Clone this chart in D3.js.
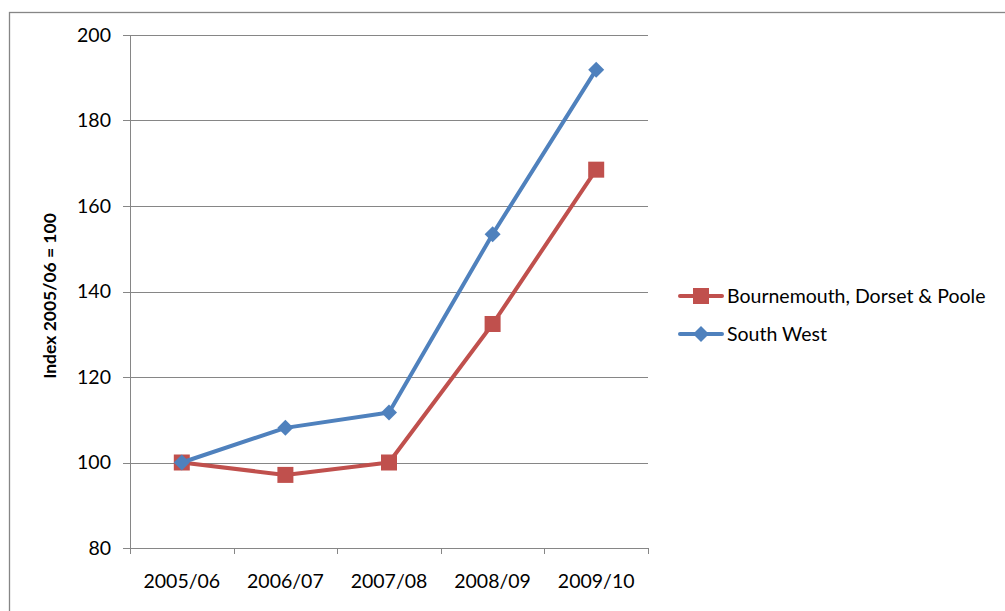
<!DOCTYPE html>
<html>
<head>
<meta charset="utf-8">
<script src="https://cdn.jsdelivr.net/npm/d3@7"></script>
<style>
  body { margin: 0; background: #fff; }
  text { font-family: Lato, "Open Sans", sans-serif; fill: #000; }
</style>
</head>
<body>
<svg id="chart" width="1005" height="611"></svg>
<script>
const years = ['2005/06', '2006/07', '2007/08', '2008/09', '2009/10'];
const bournemouth = [100, 97.1, 100, 132.4, 168.5];
const southWest = [100, 108.1, 111.7, 153.4, 191.9];
const yTicks = [80, 100, 120, 140, 160, 180, 200];

const series = [
  { name: 'Bournemouth, Dorset & Poole', values: bournemouth, colour: '#C0504D', marker: 'square' },
  { name: 'South West', values: southWest, colour: '#4F81BD', marker: 'diamond' }
];

const svg = d3.select('#chart');

// outer chart border (runs off the right and bottom)
svg.append('rect')
  .attr('x', 9.5).attr('y', 12.5)
  .attr('width', 1100).attr('height', 700)
  .attr('fill', 'none')
  .attr('stroke', '#868686')
  .attr('stroke-width', 1.3);

const x = d3.scaleBand().domain(years).range([130, 648]);
const y = d3.scaleLinear().domain([80, 200]).range([548, 35]);

const chart = svg.append('g');

// gridlines
chart.selectAll('.grid').data(yTicks).join('line')
  .attr('x1', 123).attr('x2', 648)
  .attr('y1', d => Math.round(y(d)) + 0.5).attr('y2', d => Math.round(y(d)) + 0.5)
  .attr('stroke', '#868686')
  .attr('stroke-width', 1);

// y axis line
chart.append('line')
  .attr('x1', 130.5).attr('x2', 130.5)
  .attr('y1', y(200)).attr('y2', y(80))
  .attr('stroke', '#868686');

// x tick marks at band edges
const edges = years.map(d => x(d)).concat([x.range()[1]]);
chart.selectAll('.xtick').data(edges).join('line')
  .attr('x1', d => Math.round(d) + 0.5).attr('x2', d => Math.round(d) + 0.5)
  .attr('y1', y(80)).attr('y2', y(80) + 6)
  .attr('stroke', '#868686');

// y labels
chart.selectAll('.ylab').data(yTicks).join('text')
  .attr('x', 111)
  .attr('y', d => y(d))
  .attr('dy', '0.35em')
  .attr('text-anchor', 'end')
  .style('font-size', '19.5px')
  .text(d => d);

// x labels
chart.selectAll('.xlab').data(years).join('text')
  .attr('x', d => x(d) + x.bandwidth() / 2)
  .attr('y', 588)
  .attr('text-anchor', 'middle')
  .style('font-size', '19.5px')
  .text(d => d);

// axis title
svg.append('text')
  .attr('transform', 'translate(56,296) rotate(-90)')
  .attr('text-anchor', 'middle')
  .style('font-size', '17.5px')
  .style('font-weight', 'bold')
  .text('Index 2005/06 = 100');

const line = d3.line()
  .x((d, i) => x(years[i]) + x.bandwidth() / 2)
  .y(d => y(d));

function drawMarker(g, type, colour, cx, cy) {
  if (type === 'square') {
    g.append('rect')
      .attr('x', cx - 8).attr('y', cy - 8)
      .attr('width', 16).attr('height', 16)
      .attr('fill', colour);
  } else {
    g.append('path')
      .attr('d', `M${cx},${cy - 8}L${cx + 8},${cy}L${cx},${cy + 8}L${cx - 8},${cy}Z`)
      .attr('fill', colour);
  }
}

series.forEach(s => {
  chart.append('path')
    .attr('d', line(s.values))
    .attr('fill', 'none')
    .attr('stroke', s.colour)
    .attr('stroke-width', 4)
    .attr('stroke-linejoin', 'round');
  s.values.forEach((v, i) => {
    drawMarker(chart, s.marker, s.colour, x(years[i]) + x.bandwidth() / 2, y(v));
  });
});

// legend
const legend = svg.append('g');
series.forEach((s, i) => {
  const ly = 296 + i * 38;
  legend.append('line')
    .attr('x1', 680).attr('x2', 722)
    .attr('y1', ly).attr('y2', ly)
    .attr('stroke', s.colour)
    .attr('stroke-width', 4)
    .attr('stroke-linecap', 'round');
  drawMarker(legend, s.marker, s.colour, 701, ly);
  legend.append('text')
    .attr('x', 727)
    .attr('y', ly)
    .attr('dy', '0.35em')
    .style('font-size', '19.5px')
    .text(s.name);
});
</script>
</body>
</html>
